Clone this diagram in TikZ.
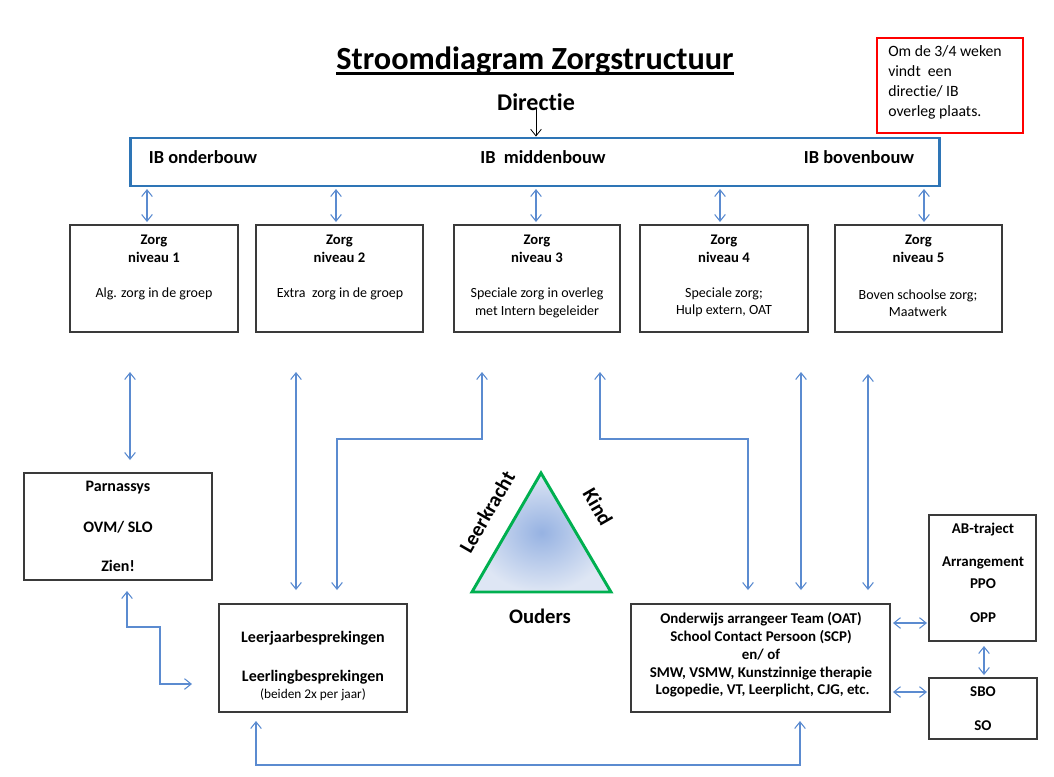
\documentclass[tikz,border=0pt]{standalone}
\usepackage{fontspec}
\setmainfont{Carlito}[Ligatures=NoCommon]
\usetikzlibrary{arrows.meta,shadings}
\definecolor{ibblue}{HTML}{2E75B6}
\definecolor{arrblue}{HTML}{5B8BD0}
\definecolor{boxgray}{HTML}{3A3A3A}
\definecolor{trigreen}{HTML}{00B050}
\tikzset{
  box/.style={draw=boxgray, line width=1pt},
  conn/.style={draw=arrblue, line width=0.8pt, {Straight Barb[length=5pt,width=8pt]}-{Straight Barb[length=5pt,width=8pt]}},
  bt/.style={font=\fontsize{12pt}{14pt}\selectfont\bfseries, inner sep=0pt},
  nt/.style={font=\fontsize{10.5pt}{13pt}\selectfont, inner sep=0pt, align=center},
  zt/.style={font=\fontsize{11pt}{13.5pt}\selectfont\bfseries, inner sep=0pt, align=center},
  ot/.style={font=\fontsize{11.2pt}{13.3pt}\selectfont\bfseries, inner sep=0pt, align=center},
  tri/.style={font=\fontsize{15.5pt}{18pt}\selectfont\bfseries, inner sep=0pt},
}
\begin{document}
\begin{tikzpicture}[x=0.75pt,y=-0.75pt]
\useasboundingbox (0,0) rectangle (1054,776);
% title
\node[inner sep=0pt, font=\fontsize{24.2pt}{28pt}\selectfont\bfseries] (title) at (535,61) {Stroomdiagram Zorgstructuur};
\draw[line width=2.2pt] (title.south west) ++(0,-1.5) coordinate (ul1) -- (ul1 -| title.south east);
\node[inner sep=0pt, font=\fontsize{18pt}{20pt}\selectfont\bfseries] (dir) at (536,102) {Directie};
% red note
\draw[red, line width=2.2pt] (877,38) rectangle (1023,133);
\node[anchor=north west, align=left, inner sep=0pt, font=\fontsize{11.8pt}{15pt}\selectfont] (notet) at (888,45) {Om de 3/4 weken\\vindt\ \ een\\directie/ IB\\overleg plaats.};
% IB box
\node[draw=ibblue, line width=2.2pt, minimum width=607pt, minimum height=36pt, inner sep=0pt] (ib) at (535,162) {};
\node[bt, font=\fontsize{13.8pt}{16pt}\selectfont\bfseries] (ib1) at (203,157) {IB onderbouw};
\node[bt, font=\fontsize{13.8pt}{16pt}\selectfont\bfseries] (ib2) at (543,157) {IB\ \ middenbouw};
\node[bt, font=\fontsize{13.8pt}{16pt}\selectfont\bfseries] (ib3) at (859,157) {IB bovenbouw};
\draw[black, line width=0.6pt, -{Straight Barb[length=5pt,width=8pt]}] (dir.south) ++(0,-2) coordinate (d0) -- (d0 |- ib.north);
% Zorg boxes
\foreach \n/\xa/\xb in {1/70/238, 2/256/423, 3/454/620, 4/640/808, 5/835/1002}{
  \draw[box] (\xa,225) rectangle (\xb,332);
  \node[zt, anchor=north] (zh\n) at ({(\xa+\xb)/2},235) {Zorg\\niveau \n};
}
\node[nt] (b1) at (154,294) {Alg. zorg in de groep};
\node[nt] (b2) at (340,294) {Extra\ \ zorg in de groep};
\node[nt] (b3) at (537,303) {Speciale zorg in overleg\\met Intern begeleider};
\node[nt] (b4) at (724,302) {Speciale zorg;\\Hulp extern, OAT};
\node[nt] (b5) at (918,303) {Boven schoolse zorg;\\Maatwerk};
% IB <-> zorg arrows
\foreach \x in {147,336,536,720,924}{
  \draw[conn] (\x,189) -- (\x,222);
}
% Parnassys
\draw[box] (24,473) rectangle (212,580);
\node[bt] (p1) at (118,488) {Parnassys};
\node[bt] (p2) at (118,527) {OVM/ SLO};
\node[bt] (p3) at (118,566) {Zien!};
% Leerjaar
\draw[box] (219,604) rectangle (407,712);
\node[bt] (l1) at (313,638) {Leerjaarbesprekingen};
\node[bt] (l2) at (313,677) {Leerlingbesprekingen};
\node[nt, font=\fontsize{10pt}{12pt}\selectfont] (l3) at (313,695) {(beiden 2x per jaar)};
% OAT
\draw[box] (631,604) rectangle (890,712);
\node[ot] (oat) at (761,655) {Onderwijs arrangeer Team (OAT)\\School Contact Persoon (SCP)\\en/ of\\SMW, VSMW, Kunstzinnige therapie\\\ Logopedie, VT, Leerplicht, CJG, etc.};
% AB
\draw[box] (929,515) rectangle (1036,641);
\node[ot] (a1) at (983,530) {AB-traject};
\node[ot] (a2) at (983,563) {Arrangement};
\node[ot] (a3) at (983,584) {PPO};
\node[ot] (a4) at (983,618) {OPP};
% SBO
\draw[box] (929,678) rectangle (1037,739);
\node[ot] (s1) at (983,692) {SBO};
\node[ot] (s2) at (983,726) {SO};
% lower connectors
\draw[conn] (130,372) -- (130,460);
\draw[conn] (296,372) -- (296,590);
\draw[conn] (482,372) -- (482,439) -- (337,439) -- (337,590);
\draw[conn] (600,372) -- (600,439) -- (748,439) -- (748,590);
\draw[conn] (801,372) -- (801,590);
\draw[conn] (868,374) -- (868,590);
\draw[conn] (127,591) -- (127,627) -- (160,627) -- (160,684) -- (192,684);
\draw[conn] (256,721) -- (256,765) -- (800,765) -- (800,721);
\draw[conn] (893,623) -- (927,623);
\draw[conn] (893,692) -- (927,692);
\draw[conn] (984,646) -- (984,675);
% triangle
\path[shade, inner color={rgb,255:red,150;green,178;blue,226}, outer color={rgb,255:red,222;green,230;blue,244}] (541,473) -- (472,592) -- (611,592) -- cycle;
\draw[trigreen, line width=2.2pt, line join=miter] (541,473) -- (472,592) -- (611,592) -- cycle;
\node[tri, rotate=60] (lk) at (487,512) {Leerkracht};
\node[tri, rotate=-60] (kd) at (598,507) {Kind};
\node[tri] (ou) at (540,616) {Ouders};
\end{tikzpicture}
\end{document}
